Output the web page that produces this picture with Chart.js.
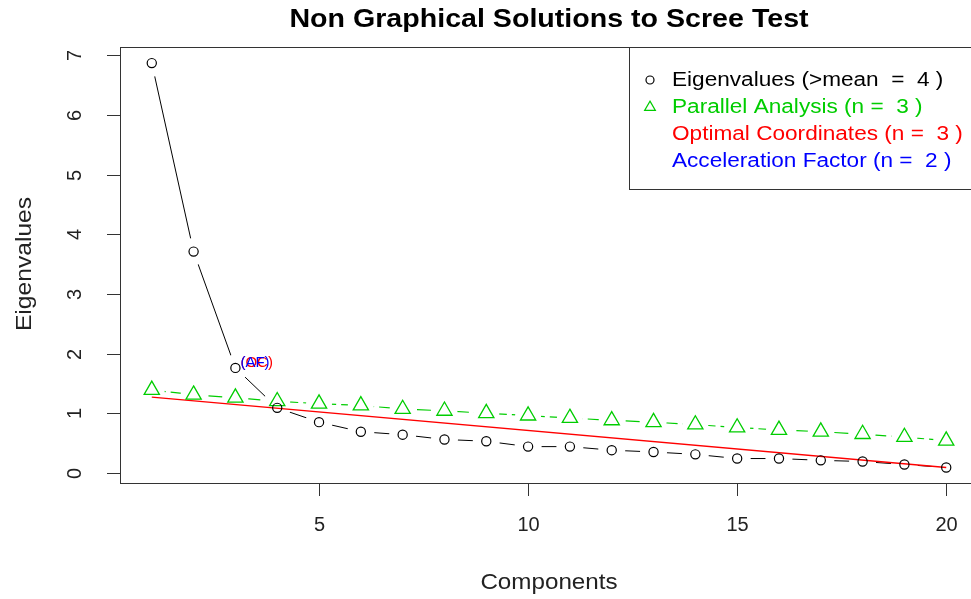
<!DOCTYPE html>
<html><head><meta charset="utf-8">
<script src="https://cdn.jsdelivr.net/npm/chart.js@4/dist/chart.umd.min.js"></script>
<style>
html,body{margin:0;padding:0;overflow:hidden;background:#fff;width:971px;height:599px}
#wrap{position:absolute;left:0;top:0;width:1000px;height:599px}
</style>
</head><body><div id="wrap"><canvas id="c" width="1000" height="599"></canvas></div>
<script>
// ---- data ----
const components = [1,2,3,4,5,6,7,8,9,10,11,12,13,14,15,16,17,18,19,20];
const eigenvalues = [6.87,3.71,1.76,1.09,0.85,0.69,0.64,0.56,0.53,0.44,0.44,0.38,0.35,0.31,0.24,0.24,0.21,0.19,0.14,0.09];
const parallelAnalysis = [1.39,1.31,1.26,1.20,1.16,1.13,1.07,1.04,1.00,0.96,0.92,0.88,0.85,0.81,0.76,0.72,0.69,0.65,0.60,0.54];
const optimalCoordX = [1, 20];
const optimalCoordY = [1.27, 0.09];
const xTicks = [5,10,15,20];
const yTicks = [0,1,2,3,4,5,6,7];
const legendLabels = ['Eigenvalues (>mean  =  4 )','Parallel Analysis (n =  3 )','Optimal Coordinates (n =  3 )','Acceleration Factor (n =  2 )'];
const legendColors = ['#000000','#00CD00','#FF0000','#0000FF'];
const legendSymbols = ['circle','triangle',null,null];
const titleText = 'Non Graphical Solutions to Scree Test';
const xTitle = 'Components';
const yTitle = 'Eigenvalues';
const annotComponent = 3;
const annotLabels = ['(OC)','(AF)'];
const annotColors = ['#FF0000','#0000FF'];

const pts = (xs, ys) => xs.map((x,i)=>({x:x, y:ys[i]}));
const FONT = '"Liberation Sans", Arial, sans-serif';

function tri(ctx,x,y,r){
  ctx.beginPath();
  ctx.moveTo(x, y - r);
  ctx.lineTo(x + r*Math.sin(2*Math.PI/3), y - r*Math.cos(2*Math.PI/3));
  ctx.lineTo(x + r*Math.sin(4*Math.PI/3), y - r*Math.cos(4*Math.PI/3));
  ctx.closePath();
  ctx.stroke();
}
// text stretched horizontally (R/Windows glyphs are wider than Liberation Sans)
function wideText(ctx, t, x, y, sx, rot){
  ctx.save(); ctx.translate(x, y);
  if (rot) ctx.rotate(rot);
  ctx.scale(sx, 1);
  ctx.fillText(t, 0, 0);
  ctx.restore();
}

const decor = {
  id:'decor',
  afterDatasetsDraw(chart){
    const ctx = chart.ctx, xs = chart.scales.x, ys = chart.scales.y, a = chart.chartArea;
    ctx.save();
    // annotation labels at component 3
    ctx.font = '15px ' + FONT;
    ctx.textBaseline = 'middle'; ctx.textAlign = 'left';
    const ax = xs.getPixelForValue(annotComponent) + 5;
    const ay = ys.getPixelForValue(eigenvalues[annotComponent-1]) - 5;
    annotLabels.forEach((t,i)=>{ ctx.fillStyle = annotColors[i]; ctx.fillText(t, ax, ay); });
    // frame
    ctx.strokeStyle = '#333'; ctx.lineWidth = 1;
    ctx.strokeRect(a.left+0.5, a.top+0.5, a.right-a.left, a.bottom-a.top);
    // x ticks
    ctx.fillStyle = '#222';
    ctx.font = '20px ' + FONT;
    ctx.textAlign = 'center'; ctx.textBaseline = 'middle';
    xTicks.forEach(v=>{
      const px = Math.round(xs.getPixelForValue(v))+0.5;
      ctx.beginPath(); ctx.moveTo(px, a.bottom); ctx.lineTo(px, a.bottom+13); ctx.stroke();
      ctx.fillText(String(v), px, 525);
    });
    // y ticks (rotated labels)
    yTicks.forEach(v=>{
      const py = Math.round(ys.getPixelForValue(v))+0.5;
      ctx.beginPath(); ctx.moveTo(a.left, py); ctx.lineTo(a.left-13, py); ctx.stroke();
      ctx.save(); ctx.translate(75, py); ctx.rotate(-Math.PI/2);
      ctx.fillText(String(v), 0, 0); ctx.restore();
    });
    // axis titles
    ctx.font = '22px ' + FONT;
    wideText(ctx, xTitle, (a.left+a.right)/2, 583, 1.1, 0);
    wideText(ctx, yTitle, 25, 264, 1.12, -Math.PI/2);
    // main title
    ctx.fillStyle = '#000';
    ctx.font = 'bold 26px ' + FONT;
    wideText(ctx, titleText, (a.left+a.right)/2, 20, 1.1, 0);
    // legend
    ctx.fillStyle = '#fff';
    ctx.fillRect(629, a.top, a.right-629, 189-a.top);
    ctx.strokeStyle = '#333';
    ctx.strokeRect(629.5, a.top+0.5, a.right-629, 189-a.top);
    ctx.font = '20px ' + FONT; ctx.textAlign = 'left';
    legendLabels.forEach((t,i)=>{
      const y = 80 + i*27.3;
      ctx.strokeStyle = legendColors[i]; ctx.lineWidth = 1.2;
      if (legendSymbols[i]==='circle'){ ctx.beginPath(); ctx.arc(650, y, 4, 0, 2*Math.PI); ctx.stroke(); }
      else if (legendSymbols[i]==='triangle'){ tri(ctx, 650, y, 6.2); }
      ctx.fillStyle = legendColors[i];
      wideText(ctx, t, 672, y, 1.13, 0);
    });
    ctx.restore();
  }
};

new Chart(document.getElementById('c'), {
  type:'scatter',
  data:{ datasets:[
    { data: pts(components, eigenvalues), showLine:true, borderColor:'#000', borderWidth:1,
      pointRadius:13.5, pointBackgroundColor:'#fff', pointBorderWidth:0, order:10 },
    { data: pts(components, parallelAnalysis), showLine:true, borderColor:'#00CD00', borderWidth:1.2,
      borderDash:[14,5], pointRadius:13, pointBackgroundColor:'#fff', pointBorderWidth:0, order:8 },
    { data: pts(optimalCoordX, optimalCoordY), showLine:true, borderColor:'#FF0000', borderWidth:1.3,
      pointRadius:0, order:6 },
    { data: pts(components, parallelAnalysis), showLine:false, pointStyle:'triangle', pointRadius:8.8,
      pointBorderColor:'#00CD00', pointBackgroundColor:'rgba(0,0,0,0)', pointBorderWidth:1.3, order:5 },
    { data: pts(components, eigenvalues), showLine:false, pointStyle:'circle', pointRadius:4.6,
      pointBorderColor:'#000', pointBackgroundColor:'rgba(0,0,0,0)', pointBorderWidth:1.2, order:4 }
  ]},
  options:{
    responsive:false, animation:false, events:[],
    layout:{ padding:{ left:120, top:47, right:22, bottom:116 } },
    plugins:{ legend:{display:false}, tooltip:{enabled:false}, title:{display:false} },
    scales:{
      x:{ type:'linear', display:false, min:0.24, max:20.76 },
      y:{ type:'linear', display:false, min:-0.17, max:7.14 }
    }
  },
  plugins:[decor]
});
</script>
</body></html>
